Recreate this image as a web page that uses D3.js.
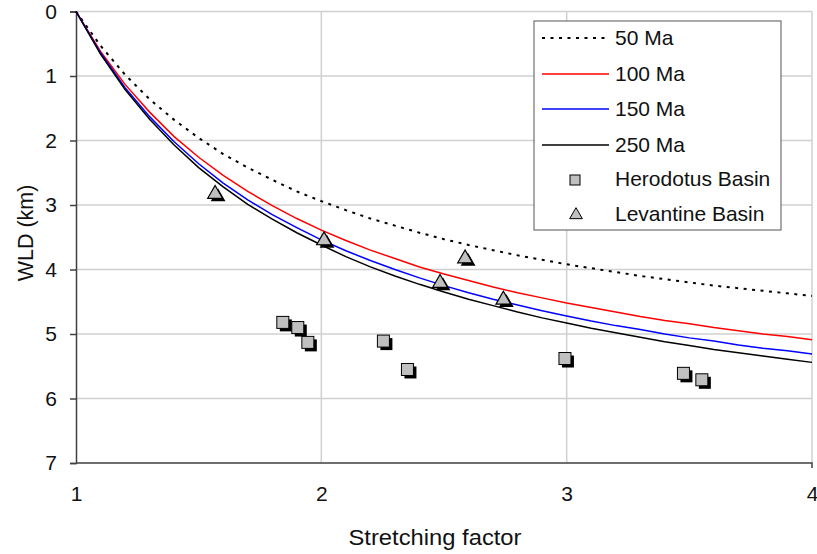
<!DOCTYPE html>
<html><head><meta charset="utf-8">
<script src="https://cdn.jsdelivr.net/npm/d3@7"></script>
<style>body{margin:0;background:#fff;} text{font-family:"Liberation Sans",Arial,sans-serif;}</style>
</head><body><svg id="c" width="817" height="554"></svg>
<script>
const beta = [1.0,1.1,1.2,1.3,1.4,1.5,1.6,1.7,1.8,1.9,2.0,2.1,2.2,2.3,2.4,2.5,2.6,2.7,2.8,2.9,3.0,3.1,3.2,3.3,3.4,3.5,3.6,3.7,3.8,3.9,4.0];
const wld50  = [0,0.53,0.98,1.36,1.68,1.96,2.21,2.42,2.61,2.79,2.94,3.08,3.21,3.32,3.43,3.53,3.62,3.70,3.78,3.85,3.92,3.98,4.04,4.10,4.15,4.20,4.25,4.29,4.33,4.37,4.41];
const wld100 = [0,0.62,1.13,1.56,1.94,2.26,2.54,2.79,3.01,3.21,3.39,3.55,3.70,3.83,3.96,4.07,4.17,4.27,4.36,4.44,4.52,4.59,4.66,4.73,4.79,4.84,4.90,4.95,5.00,5.04,5.09];
const wld150 = [0,0.64,1.18,1.63,2.02,2.36,2.66,2.92,3.15,3.35,3.54,3.71,3.86,4.00,4.13,4.25,4.36,4.46,4.55,4.64,4.72,4.80,4.87,4.93,5.00,5.06,5.11,5.17,5.22,5.26,5.31];
const wld250 = [0,0.66,1.21,1.67,2.07,2.42,2.72,2.99,3.22,3.43,3.62,3.80,3.96,4.10,4.23,4.35,4.46,4.56,4.66,4.75,4.83,4.91,4.98,5.05,5.12,5.18,5.24,5.29,5.34,5.39,5.44];
const herodotusBeta = [1.843,1.904,1.945,2.253,2.351,2.993,3.476,3.551];
const herodotusWLD  = [4.82,4.90,5.13,5.11,5.55,5.38,5.61,5.71];
const levantineBeta = [1.567,2.011,2.586,2.484,2.742];
const levantineWLD  = [2.83,3.55,3.83,4.21,4.47];
const xTicks = [1,2,3,4];
const yTicks = [0,1,2,3,4,5,6,7];

const svg = d3.select("#c");
const L=76, R=812, T=11.5, B=463;
const x = d3.scaleLinear().domain([1,4]).range([L,R]);
const y = d3.scaleLinear().domain([0,7]).range([T,B]);
const FONT = "Liberation Sans, Arial, sans-serif";

// grid
svg.append("g").selectAll("line").data(yTicks.filter(d=>d<7)).join("line")
  .attr("x1",L).attr("x2",R).attr("y1",d=>y(d)).attr("y2",d=>y(d))
  .attr("stroke","#d0d0d0").attr("stroke-width",1.5);
svg.append("g").selectAll("line").data(xTicks.filter(d=>d>1)).join("line")
  .attr("x1",d=>x(d)).attr("x2",d=>x(d)).attr("y1",T).attr("y2",B)
  .attr("stroke","#d0d0d0").attr("stroke-width",1.5);

// axes
const yAxis = svg.append("g").attr("transform",`translate(${L},0)`)
  .call(d3.axisLeft(y).tickValues(yTicks).tickSize(6).tickPadding(13).tickFormat(d3.format("d")));
const xAxis = svg.append("g").attr("transform",`translate(0,${B})`)
  .call(d3.axisBottom(x).tickValues(xTicks).tickSize(0).tickPadding(23).tickFormat(d3.format("d")));
[yAxis,xAxis].forEach(g=>{
  g.attr("font-size",21).attr("font-family",FONT);
  g.select(".domain").attr("stroke","#404040").attr("stroke-width",1.5);
  g.selectAll(".tick line").attr("stroke","#404040").attr("stroke-width",1.5);
  g.selectAll("text").attr("fill","#111");
});
xAxis.select(".domain").attr("d",`M${L},0H${R}V5`);

// axis titles
svg.append("text").attr("x",(L+R)/2 - 9).attr("y",545).attr("text-anchor","middle")
  .attr("font-size",22).attr("fill","#111").attr("textLength",173).attr("lengthAdjust","spacingAndGlyphs")
  .text("Stretching factor");
svg.append("text").attr("transform",`translate(33,233) rotate(-90)`).attr("text-anchor","middle")
  .attr("font-size",21.5).attr("fill","#111").text("WLD (km)");

// curves
const line = d3.line().x(d=>x(d[0])).y(d=>y(d[1]));
const series = [
  {v:wld50, c:"#000", dash:"3,5.5", w:2},
  {v:wld100,c:"#ff0000",dash:null,w:1.5},
  {v:wld150,c:"#0000ff",dash:null,w:1.5},
  {v:wld250,c:"#000",dash:null,w:1.5}
];
series.forEach(s=>{
  svg.append("path").datum(beta.map((b,i)=>[b,s.v[i]])).attr("d",line)
    .attr("fill","none").attr("stroke",s.c).attr("stroke-width",s.w)
    .attr("stroke-dasharray",s.dash);
});

// markers
const sq = 12;
const hd = herodotusBeta.map((b,i)=>[b,herodotusWLD[i]]);
svg.append("g").selectAll("rect").data(hd).join("rect")
  .attr("x",d=>x(d[0])-sq/2+3).attr("y",d=>y(d[1])-sq/2+3).attr("width",sq).attr("height",sq).attr("fill","#000");
svg.append("g").selectAll("rect").data(hd).join("rect")
  .attr("x",d=>x(d[0])-sq/2).attr("y",d=>y(d[1])-sq/2).attr("width",sq).attr("height",sq)
  .attr("fill","#c0c0c0").attr("stroke","#000").attr("stroke-width",1);
const tri = d3.symbol().type(d3.symbolTriangle).size(95);
const lv = levantineBeta.map((b,i)=>[b,levantineWLD[i]]);
svg.append("g").selectAll("path").data(lv).join("path")
  .attr("d",tri).attr("transform",d=>`translate(${x(d[0])+3},${y(d[1])+3})`).attr("fill","#000");
svg.append("g").selectAll("path").data(lv).join("path")
  .attr("d",tri).attr("transform",d=>`translate(${x(d[0])},${y(d[1])})`)
  .attr("fill","#c0c0c0").attr("stroke","#000").attr("stroke-width",1.2);

// legend
const lg = svg.append("g");
lg.append("rect").attr("x",534).attr("y",21).attr("width",247).attr("height",209)
  .attr("fill","#fff").attr("stroke","#707070").attr("stroke-width",1.2);
const labels = ["50 Ma","100 Ma","150 Ma","250 Ma","Herodotus Basin","Levantine Basin"];
const ly = [38,74,109,145,179,214];
series.forEach((s,i)=>{
  lg.append("line").attr("x1",542).attr("x2",609).attr("y1",ly[i]).attr("y2",ly[i])
    .attr("stroke",s.c).attr("stroke-width",s.w).attr("stroke-dasharray",s.dash);
});
lg.append("rect").attr("x",570).attr("y",ly[4]-4).attr("width",10).attr("height",10)
  .attr("fill","#c0c0c0").attr("stroke","#000").attr("stroke-width",1);
lg.append("path").attr("d",d3.symbol().type(d3.symbolTriangle).size(70))
  .attr("transform",`translate(576,${ly[5]+1})`).attr("fill","#c0c0c0").attr("stroke","#000").attr("stroke-width",1);
lg.selectAll("text.l").data(labels).join("text").attr("class","l")
  .attr("x",615).attr("y",(d,i)=>ly[i]+7)
  .attr("font-size",21).attr("fill","#111").text(d=>d);
</script></body></html>
